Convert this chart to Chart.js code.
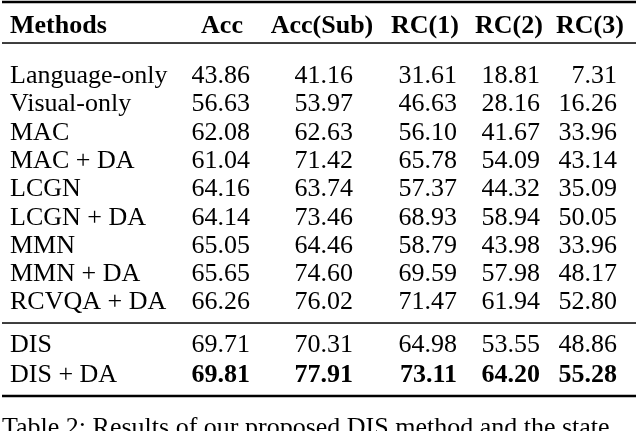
<!DOCTYPE html>
<html lang="en">
<head>
<meta charset="UTF-8">
<title>Table 2</title>
<style>
    * { margin: 0; padding: 0; }
    body { background: #fff; }
    #wrap { width: 640px; height: 431px; }
</style>
</head>
<body>
<div id="wrap"><canvas id="tbl"></canvas></div>
<script src="https://cdn.jsdelivr.net/npm/chart.js"></script>
<script>
    // Table data
    const columns = ['Methods', 'Acc', 'Acc(Sub)', 'RC(1)', 'RC(2)', 'RC(3)'];
    const methods = ['Language-only', 'Visual-only', 'MAC', 'MAC + DA', 'LCGN', 'LCGN + DA',
                     'MMN', 'MMN + DA', 'RCVQA + DA', 'DIS', 'DIS + DA'];
    const acc    = ['43.86', '56.63', '62.08', '61.04', '64.16', '64.14', '65.05', '65.65', '66.26', '69.71', '69.81'];
    const accSub = ['41.16', '53.97', '62.63', '71.42', '63.74', '73.46', '64.46', '74.60', '76.02', '70.31', '77.91'];
    const rc1    = ['31.61', '46.63', '56.10', '65.78', '57.37', '68.93', '58.79', '69.59', '71.47', '64.98', '73.11'];
    const rc2    = ['18.81', '28.16', '41.67', '54.09', '44.32', '58.94', '43.98', '57.98', '61.94', '53.55', '64.20'];
    const rc3    = ['7.31', '16.26', '33.96', '43.14', '35.09', '50.05', '33.96', '48.17', '52.80', '48.86', '55.28'];
    const caption = 'Table 2: Results of our proposed DIS method and the state';

    // layout (x in pixels, y in row units)
    const headX = [10, 222, 322, 425, 509, 590];
    const numRight = [250, 353, 457, 540, 617];
    const rowPos = i => i < 9 ? i : i === 9 ? 9.505 : 10.565;
    const STEP = 28.3, ROW0 = 83;

    const tablePlugin = {
        id: 'table',
        afterDraw(chart) {
            const ctx = chart.ctx, xs = chart.scales.x, ys = chart.scales.y;
            ctx.save();
            ctx.fillStyle = '#000';
            ctx.textBaseline = 'alphabetic';
            const font = b => (b ? 'bold ' : '') + '26px "Liberation Serif", "Times New Roman", serif';
            columns.forEach((c, j) => {
                ctx.font = font(true);
                ctx.textAlign = j === 0 ? 'left' : 'center';
                ctx.fillText(c, xs.getPixelForValue(headX[j]), ys.getPixelForValue(-1.767));
            });
            const cols = [acc, accSub, rc1, rc2, rc3];
            methods.forEach((m, i) => {
                const y = ys.getPixelForValue(rowPos(i));
                ctx.font = font(false);
                ctx.textAlign = 'left';
                ctx.fillText(m, xs.getPixelForValue(headX[0]), y);
                cols.forEach((arr, j) => {
                    ctx.font = font(i === methods.length - 1);
                    ctx.textAlign = 'right';
                    ctx.fillText(arr[i], xs.getPixelForValue(numRight[j]), y);
                });
            });
            const rule = (v, w) => {
                const y = ys.getPixelForValue(v);
                ctx.fillRect(xs.getPixelForValue(2), y - w / 2, xs.getPixelForValue(636) - xs.getPixelForValue(2), w);
            };
            rule(-2.862, 2.5);
            rule(-1.413, 1.5);
            rule(8.481, 1.5);
            rule(11.06, 2.5);
            ctx.font = font(false);
            ctx.textAlign = 'left';
            ctx.fillText(caption, xs.getPixelForValue(2), ys.getPixelForValue(12.44));
            ctx.restore();
        }
    };

    new Chart(document.getElementById('tbl'), {
        type: 'scatter',
        data: { datasets: [{ data: [] }] },
        options: {
            responsive: true,
            maintainAspectRatio: false,
            animation: false,
            layout: { padding: 0 },
            plugins: { legend: { display: false }, tooltip: { enabled: false } },
            scales: {
                x: { type: 'linear', min: 0, max: 640, display: false },
                y: { type: 'linear', min: -ROW0 / STEP, max: (431 - ROW0) / STEP, reverse: true, display: false }
            }
        },
        plugins: [tablePlugin]
    });
</script>
</body>
</html>
